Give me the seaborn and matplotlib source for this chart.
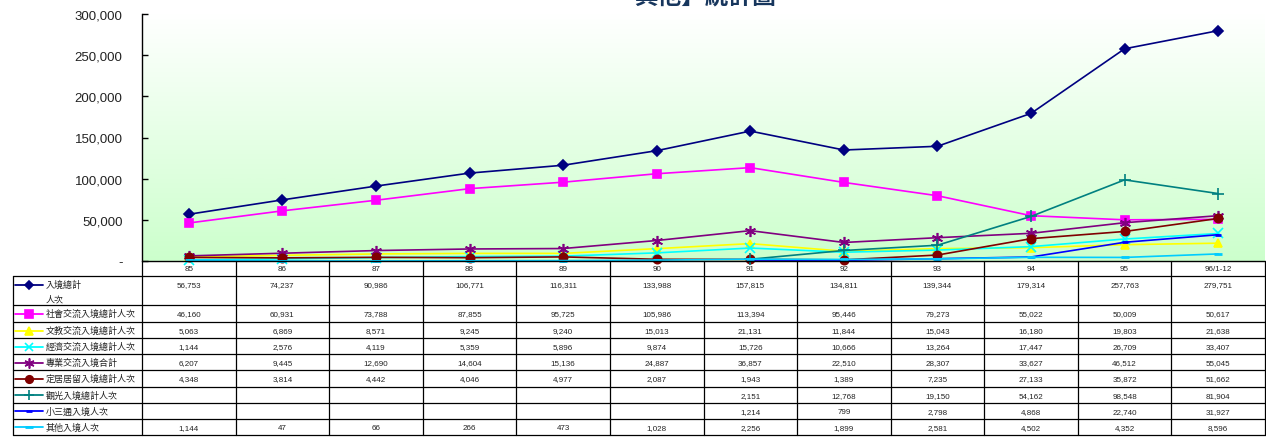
import numpy as np
import pandas as pd
import seaborn as sns
import matplotlib.pyplot as plt

sns.set_style('white')
plt.rcParams['font.family'] = ['Liberation Sans', 'Noto Sans CJK TC', 'DejaVu Sans']

# Data
years = ['85', '86', '87', '88', '89', '90', '91', '92', '93', '94', '95', '96/1-12']
total = [56753, 74237, 90986, 106771, 116311, 133988, 157815, 134811, 139344, 179314, 257763, 279751]
social = [46160, 60931, 73788, 87855, 95725, 105986, 113394, 95446, 79273, 55022, 50009, 50617]
culture = [5063, 6869, 8571, 9245, 9240, 15013, 21131, 11844, 15043, 16180, 19803, 21638]
economy = [1144, 2576, 4119, 5359, 5896, 9874, 15726, 10666, 13264, 17447, 26709, 33407]
professional = [6207, 9445, 12690, 14604, 15136, 24887, 36857, 22510, 28307, 33627, 46512, 55045]
residence = [4348, 3814, 4442, 4046, 4977, 2087, 1943, 1389, 7235, 27133, 35872, 51662]
tourism = [None, None, None, None, None, None, 2151, 12768, 19150, 54162, 98548, 81904]
mini_links = [None, None, None, None, None, None, 1214, 799, 2798, 4868, 22740, 31927]
other = [1144, 47, 66, 266, 473, 1028, 2256, 1899, 2581, 4502, 4352, 8596]

series_names = ['入境總計人次', '社會交流入境總計人次', '文教交流入境總計人次', '經濟交流入境總計人次',
                '專業交流入境合計', '定居居留入境總計人次', '觀光入境總計人次', '小三通入境人次', '其他入境人次']
series_values = [total, social, culture, economy, professional, residence, tourism, mini_links, other]
colors = ['#000080', '#FF00FF', '#FFFF00', '#00FFFF', '#800080', '#800000', '#008080', '#0000FF', '#00CCFF']
markers = ['D', 's', '^', 'x', (6, 2, 0), 'o', '+', '_', '_']
msizes = [5, 6, 6, 7, 8, 6, 8, 5, 6]

W, H = 1266, 439
fig = plt.figure(figsize=(W / 100, H / 100), dpi=100)

# pixel geometry
left, right, top, bottom = 142, 1265, 15, 262
ax = fig.add_axes([left / W, 1 - bottom / H, (right - left) / W, (bottom - top) / H])

# gradient background
grad = np.linspace(0, 1, 256).reshape(-1, 1)
from matplotlib.colors import LinearSegmentedColormap
cmap = LinearSegmentedColormap.from_list('bg', ['#ffffff', '#ccffcc'])
ax.imshow(grad, aspect='auto', cmap=cmap, extent=[0, 1, 0, 1], transform=ax.transAxes, zorder=0)

xs = np.arange(len(years))
for name, vals, c, m, ms in zip(series_names, series_values, colors, markers, msizes):
    d = pd.DataFrame({'x': xs, 'y': pd.array(vals, dtype='Float64')}).dropna()
    d['y'] = d['y'].astype(float)
    sns.lineplot(data=d, x='x', y='y', color=c, marker=m, markersize=ms, markeredgecolor=c,
                 markeredgewidth=1.2 if m not in ('_',) else 2, linewidth=1.2, ax=ax, clip_on=False, zorder=3)

ax.set_xlim(-0.5, len(years) - 0.5)
ax.set_ylim(0, 300000)
ax.set_yticks(np.arange(0, 300001, 50000))
ax.set_yticklabels(['-'] + [f'{v:,}' for v in range(50000, 300001, 50000)], fontsize=9.5, color='#222222')
ax.tick_params(axis='y', direction='in', length=4, width=1, pad=14, color='black', left=True)
ax.set_xticks([])
ax.set_xlabel('')
ax.set_ylabel('')
for s in ['top', 'right', 'bottom']:
    ax.spines[s].set_visible(False)
ax.spines['left'].set_color('black')
ax.spines['left'].set_linewidth(1)

# title (partly cut by the figure edge as in the original)
fig.text(705 / W, 1 - 9 / H, '其他】統計圖', ha='center', va='bottom', fontsize=17,
         fontweight='bold', color='#17365d', family=['Noto Sans CJK TC'])

# data table below the chart
tab = fig.add_axes([0, 0, 1, 1])
tab.set_xlim(0, W)
tab.set_ylim(H, 0)
tab.axis('off')
tab.patch.set_alpha(0)

col_w = (right - left) / len(years)
row_lines = [277, 306, 323, 339, 355, 371, 388, 404, 420, 436]
lw = 0.9
tab.plot([left, right], [262, 262], color='black', lw=1)
for y in row_lines:
    tab.plot([13, right], [y, y], color='black', lw=lw)
tab.plot([13, 13], [277, 436], color='black', lw=lw)
for k in range(len(years) + 1):
    x = left + k * col_w
    tab.plot([x, x], [262, 436], color='black', lw=lw)

for k, lab in enumerate(years):
    tab.text(left + (k + 0.5) * col_w, 270, lab, ha='center', va='center', fontsize=5.8, color='#222222')

for i, (name, vals, c, m, ms) in enumerate(zip(series_names, series_values, colors, markers, msizes)):
    y0 = row_lines[i]
    yc = y0 + 8.5
    tab.plot([15, 43], [yc, yc], color=c, lw=1.3)
    tab.plot([29], [yc], marker=m, color=c, markersize=ms * 0.9, markeredgecolor=c,
             markeredgewidth=1.2 if m != '_' else 2)
    if i == 0:
        tab.text(46, yc, '入境總計', ha='left', va='center', fontsize=6.5, color='#222222')
        tab.text(46, yc + 14, '人次', ha='left', va='center', fontsize=6.5, color='#222222')
    else:
        tab.text(46, yc, name, ha='left', va='center', fontsize=6.5, color='#222222')
    for k, v in enumerate(vals):
        if v is None:
            continue
        tab.text(left + (k + 0.5) * col_w, yc, f'{v:,}', ha='center', va='center',
                 fontsize=5.8, color='#222222')

fig.savefig('out.png', dpi=100)
